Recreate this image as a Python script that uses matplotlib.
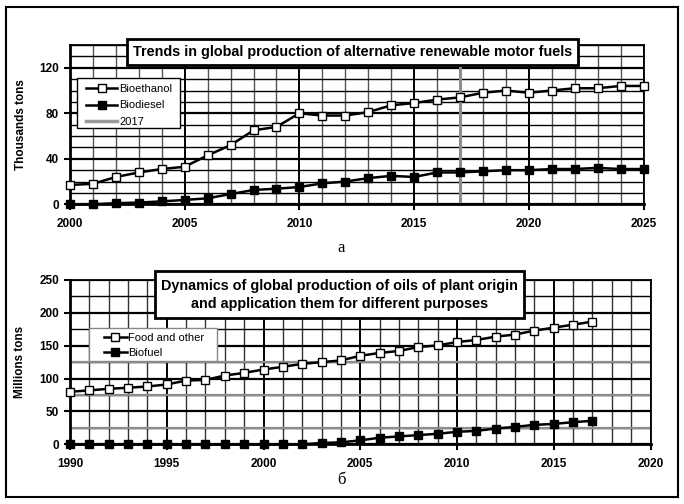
import matplotlib
matplotlib.use("Agg")
import matplotlib.pyplot as plt
from matplotlib.patches import Rectangle
from matplotlib.ticker import MultipleLocator
from matplotlib.lines import Line2D

plt.rcParams['font.family'] = ['Liberation Sans', 'DejaVu Sans']

# ---- data: chart a ----
years_a = list(range(2000, 2026))
bioethanol = [17, 18, 24, 28, 31, 33, 43, 52, 65, 68, 80, 78, 78, 81, 87, 89,
              92, 94, 98, 100, 98, 100, 102, 102, 104, 104]
biodiesel = [0, 0, 1, 1.5, 2.6, 3.8, 5.3, 9, 12.6, 13.7, 15.2, 18.4, 20, 23, 25,
             24, 28, 28, 29, 30, 30, 31, 31, 32, 31, 31]
marker_year = 2017
title_a = "Trends in global production of alternative renewable motor fuels"
ylabel_a = "Thousands tons"
legend_a = ['Bioethanol', 'Biodiesel', str(marker_year)]

# ---- data: chart b ----
years_b = list(range(1990, 2018))
food = [80, 82, 84.5, 86, 88, 91, 97, 98, 104.6, 108.7, 113.8, 117.9, 122.4, 125,
        127.6, 134.7, 139, 142, 148, 150.5, 155.6, 158.7, 163.8, 167, 173, 177.5,
        182, 186.7]
biofuel = [0, 0, 0, 0, 0, 0, 0, 0, 0, 0, 0, 0, 0, 2, 3, 6, 10, 12, 14, 16, 19,
           20.4, 24, 26.5, 29.6, 31, 33.7, 35.7]
title_b = "Dynamics of global production of oils of plant origin\nand application them for different purposes"
ylabel_b = "Millions tons"
legend_b = ['Food and other', 'Biofuel']

W, H = 684, 504
fig = plt.figure(figsize=(W / 100, H / 100), dpi=100)


def fx(x):
    return x / W


def fy(y):
    return 1 - y / H


def px_axes(x0, y0, x1, y1):
    return fig.add_axes([fx(x0), fy(y1), (x1 - x0) / W, (y1 - y0) / H])


def style_axes(ax):
    ax.set_axisbelow(True)
    for s in ['left', 'bottom']:
        ax.spines[s].set_linewidth(2.0)
    for s in ['top', 'right']:
        ax.spines[s].set_linewidth(1.3)
    ax.tick_params(which='major', direction='out', length=4, width=1.5,
                   labelsize=8.5, pad=4)
    ax.tick_params(axis='x', which='major', pad=6)
    ax.tick_params(which='minor', length=0)
    for lab in ax.get_xticklabels() + ax.get_yticklabels():
        lab.set_fontweight('bold')


def box(x0, y0, x1, y1, lw, ec='black', z=5):
    fig.patches.append(Rectangle((fx(x0), fy(y1)), (x1 - x0) / W, (y1 - y0) / H,
                                 transform=fig.transFigure, facecolor='white',
                                 edgecolor=ec, lw=lw, zorder=z))


sq = dict(marker='s', ms=5.8, mec='black', mew=1.0)

# ================= chart a =================
ax1 = px_axes(70, 45, 643.5, 204.3)
ax1.set_xlim(2000, 2025)
ax1.set_ylim(0, 140)
ax1.set_xticks(list(range(2000, 2026, 5)))
ax1.set_yticks([0, 40, 80, 120])
ax1.xaxis.set_minor_locator(MultipleLocator(1))
ax1.yaxis.set_minor_locator(MultipleLocator(10))
ax1.xaxis.grid(True, which='minor', color='#555555', lw=1.0)
ax1.xaxis.grid(True, which='major', color='black', lw=1.4)
ax1.yaxis.grid(True, which='minor', color='black', lw=1.0)
ax1.yaxis.grid(True, which='major', color='black', lw=1.6)
ax1.axvline(marker_year, color='#8c8c8c', lw=2.2, zorder=1.5)
ax1.plot(years_a, bioethanol, color='black', lw=1.8, mfc='white', clip_on=False,
         zorder=3, **sq)
ax1.plot(years_a, biodiesel, color='black', lw=1.8, mfc='black', clip_on=False,
         zorder=3, **sq)
ax1.set_ylabel(ylabel_a, fontsize=8.5, fontweight='bold')
ax1.yaxis.set_label_coords(-0.075, 0.5)
style_axes(ax1)

# legend a (frame drawn separately)
box(76.7, 78.3, 180, 128.3, lw=1.0, z=4)
h1 = [Line2D([], [], color='black', lw=1.8, mfc='white', **sq),
      Line2D([], [], color='black', lw=1.8, mfc='black', **sq),
      Line2D([], [], color='#9a9a9a', lw=2.5)]
leg1 = fig.legend(h1, legend_a, loc='upper left',
                  bbox_to_anchor=(fx(86), fy(84.1)), borderaxespad=0,
                  fontsize=8, handlelength=2.79, handletextpad=0.18,
                  labelspacing=0.57, borderpad=0, frameon=False)
leg1.set_zorder(6)

# title box a
box(127, 39.5, 578, 65, lw=2.0)
fig.text(fx((127 + 578) / 2), fy(52.3), title_a, ha='center', va='center',
         fontsize=10.4, fontweight='bold', zorder=6)

fig.text(fx(341), fy(248), 'а', ha='center', va='center', fontsize=12,
         family=['Liberation Serif', 'DejaVu Serif'])

# ================= chart b =================
ax2 = px_axes(70, 280, 650.5, 444.3)
ax2.set_xlim(1990, 2020)
ax2.set_ylim(0, 250)
ax2.set_xticks(list(range(1990, 2021, 5)))
ax2.set_yticks(list(range(0, 251, 50)))
ax2.xaxis.set_minor_locator(MultipleLocator(1))
ax2.yaxis.set_minor_locator(MultipleLocator(25))
ax2.xaxis.grid(True, which='minor', color='#333333', lw=1.0)
ax2.xaxis.grid(True, which='major', color='black', lw=1.4)
ax2.yaxis.grid(True, which='minor', color='black', lw=1.0)
ax2.yaxis.grid(True, which='major', color='black', lw=1.6)
for v in [25, 75, 125]:
    ax2.axhline(v, color='#8c8c8c', lw=1.6, zorder=1.2)
ax2.plot(years_b, food, color='black', lw=1.8, mfc='white', clip_on=False,
         zorder=3, **sq)
ax2.plot(years_b, biofuel, color='black', lw=1.8, mfc='black', clip_on=False,
         zorder=3, **sq)
ax2.set_ylabel(ylabel_b, fontsize=8.5, fontweight='bold')
ax2.yaxis.set_label_coords(-0.075, 0.5)
style_axes(ax2)

# legend b
box(89, 328.3, 217, 360.7, lw=1.0, ec='#888888', z=4)
h2 = [Line2D([], [], color='black', lw=1.8, mfc='white', **sq),
      Line2D([], [], color='black', lw=1.8, mfc='black', **sq)]
leg2 = fig.legend(h2, legend_b, loc='upper left',
                  bbox_to_anchor=(fx(104), fy(332.9)), borderaxespad=0,
                  fontsize=8, handlelength=2.04, handletextpad=0.12,
                  labelspacing=0.46, borderpad=0, frameon=False)
leg2.set_zorder(6)

box(155, 271, 524, 318.3, lw=2.0)
fig.text(fx((155 + 524) / 2), fy(295), title_b, ha='center', va='center',
         fontsize=10.4, fontweight='bold', linespacing=1.3, zorder=6)

fig.text(fx(341), fy(480), 'б', ha='center', va='center', fontsize=12,
         family=['Liberation Serif', 'DejaVu Serif'])

# outer frame
fig.patches.append(Rectangle((fx(6), fy(497)), (678 - 6) / W, (497 - 7) / H,
                             transform=fig.transFigure, fill=False,
                             edgecolor='black', lw=1.5, zorder=10))

fig.savefig('out.png', dpi=100)
